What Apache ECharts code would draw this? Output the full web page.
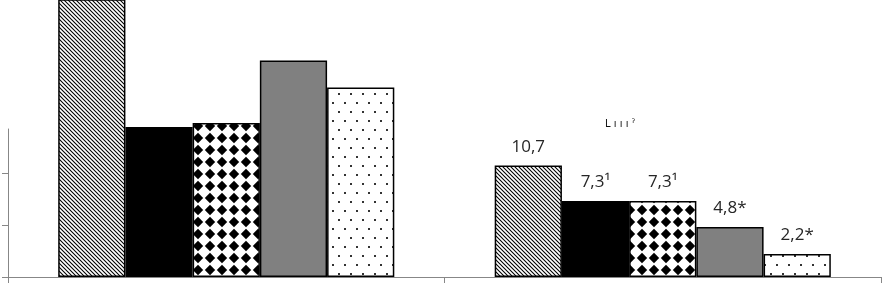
<!DOCTYPE html>
<html><head><meta charset="utf-8">
<script src="https://cdn.jsdelivr.net/npm/echarts@6/dist/echarts.min.js"></script>
<style>html,body{margin:0;padding:0;background:#fff}#c{width:884px;height:285px}</style>
</head><body><div id="c"></div>
<script>
// ---- data ----
const categories = ['Группа 1', 'Группа 2'];
const seriesNames = ['Ряд 1', 'Ряд 2', 'Ряд 3', 'Ряд 4', 'Ряд 5'];
const valuesS1 = [28.0, 10.7];
const valuesS2 = [14.4, 7.3];
const valuesS3 = [14.8, 7.3];
const valuesS4 = [20.8, 4.8];
const valuesS5 = [18.2, 2.2];
const labelsS1 = ['', '10,7'];
const labelsS2 = ['', '7,3¹'];
const labelsS3 = ['', '7,3¹'];
const labelsS4 = ['', '4,8*'];
const labelsS5 = ['', '2,2*'];
const yTicks = [0, 5, 10];
const fragmentText = 'L ı ı ı ˀ';

// ---- patterns ----
function mk(w, h, draw) {
  const c = document.createElement('canvas');
  c.width = w; c.height = h;
  const g = c.getContext('2d');
  g.fillStyle = '#fff'; g.fillRect(0, 0, w, h);
  draw(g);
  return { image: c, repeat: 'repeat' };
}
const hatch = mk(4, 4, g => {
  g.strokeStyle = '#000'; g.lineWidth = 1.1;
  g.beginPath();
  g.moveTo(-1, -1); g.lineTo(5, 5);
  g.moveTo(-5, -1); g.lineTo(1, 5);
  g.moveTo(3, -1); g.lineTo(9, 5);
  g.stroke();
});
const checker = mk(12, 12, g => {
  g.fillStyle = '#000';
  g.beginPath();
  g.moveTo(6, 0.8); g.lineTo(11.2, 6); g.lineTo(6, 11.2); g.lineTo(0.8, 6); g.closePath();
  g.fill();
});
const dots = mk(12, 18, g => {
  g.fillStyle = '#333';
  g.fillRect(2, 3, 2, 2);
  g.fillRect(8, 12, 2, 2);
});
const fills = [hatch, '#000000', checker, '#808080', dots];
const values = [valuesS1, valuesS2, valuesS3, valuesS4, valuesS5];
const labels = [labelsS1, labelsS2, labelsS3, labelsS4, labelsS5];

const chart = echarts.init(document.getElementById('c'), null, { renderer: 'canvas' });
const axisColor = '#878787';
chart.setOption({
  animation: false,
  backgroundColor: '#fff',
  grid: [
    { left: 8, right: 3, top: 0, bottom: 8 },
    { left: 8, right: 3, top: 129, bottom: 8 }
  ],
  xAxis: [
    { gridIndex: 0, type: 'category', data: categories,
      axisLine: { show: true, lineStyle: { color: axisColor, width: 1 } },
      axisTick: { show: true, length: 6, lineStyle: { color: axisColor } },
      axisLabel: { show: false }, splitLine: { show: false } },
    { gridIndex: 1, type: 'category', data: categories, show: false }
  ],
  yAxis: [
    { gridIndex: 0, type: 'value', min: 0, max: 26.6, show: false, splitLine: { show: false } },
    { gridIndex: 1, type: 'value', min: 0, max: 14.2, interval: 5,
      axisLine: { show: true, lineStyle: { color: axisColor, width: 1 } },
      axisTick: { show: true, length: 6, customValues: yTicks, lineStyle: { color: axisColor } },
      axisLabel: { show: false }, splitLine: { show: false } }
  ],
  graphic: [
    { type: 'text', left: 605, top: 119, z: 10,
      style: { text: fragmentText, fontSize: 10, fontFamily: 'DejaVu Sans', fill: '#111' } }
  ],
  series: values.map((v, i) => ({
    name: seriesNames[i],
    type: 'bar',
    xAxisIndex: 0, yAxisIndex: 0,
    data: v,
    barGap: 0,
    barCategoryGap: '23%',
    itemStyle: { color: fills[i], borderColor: '#000', borderWidth: 1.5 },
    label: {
      show: true, position: 'top', distance: 10,
      formatter: p => labels[i][p.dataIndex],
      fontSize: 17, fontFamily: 'Open Sans', color: '#262626'
    }
  }))
});
</script>
</body></html>
